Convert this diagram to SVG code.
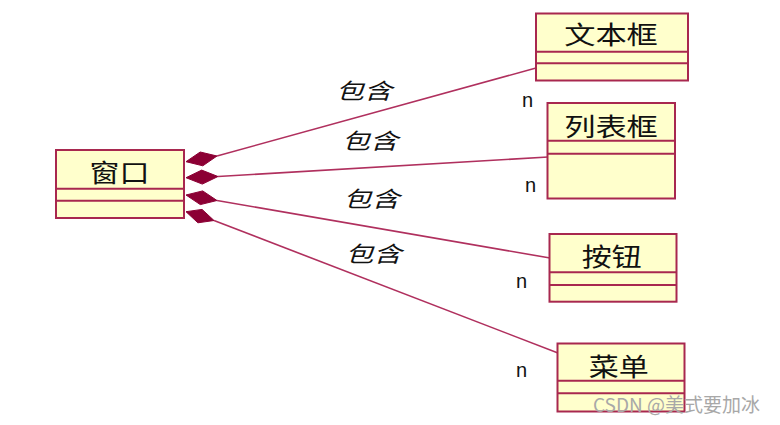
<svg xmlns="http://www.w3.org/2000/svg" width="780" height="425" viewBox="0 0 780 425">
<style>
.box{fill:#FFFFCC;stroke:#A8284F;stroke-width:2}
.div{stroke:#A8284F;stroke-width:2;fill:none}
.name{font-family:"Noto Sans CJK SC","Noto Sans",sans-serif;font-size:25px;fill:#111;text-anchor:middle}
.lbl{font-family:"Noto Sans CJK SC","Noto Sans",sans-serif;font-size:22px;font-style:italic;fill:#111;text-anchor:middle}
.n{font-family:"Liberation Sans",Arial,sans-serif;font-size:20px;fill:#111}
.line{stroke:#B0305E;stroke-width:1.6;fill:none}
.dia{fill:#8C0034;stroke:#8C0034;stroke-width:1}
.wm{font-family:"Noto Sans CJK SC","Liberation Sans",sans-serif;font-size:19px;fill:#A8A8A8}
</style>
<rect width="780" height="425" fill="#fff"/>
<g id="connectors">
<line class="line" x1="217" y1="156" x2="536" y2="68"/>
<line class="line" x1="218" y1="176.5" x2="548" y2="157"/>
<line class="line" x1="217" y1="200.5" x2="550" y2="258"/>
<line class="line" x1="214" y1="220.5" x2="558" y2="353"/>
<polygon class="dia" points="186,161.7 200.2,152 217,156 202.8,165.8"/>
<polygon class="dia" points="186,177.7 201.7,170.1 218,176.5 202.3,184.1"/>
<polygon class="dia" points="186,195 202.7,190.9 217,200.5 200.3,204.6"/>
<polygon class="dia" points="186,211.7 202.1,209.4 214,220.5 197.9,222.8"/>
<text class="lbl" transform="translate(364,98.5) scale(1.28,1)">包含</text>
<text class="lbl" transform="translate(370,148.5) scale(1.28,1)">包含</text>
<text class="lbl" transform="translate(371.5,206.5) scale(1.28,1)">包含</text>
<text class="lbl" transform="translate(373.5,261.5) scale(1.28,1)">包含</text>
<text class="n" x="522" y="107">n</text>
<text class="n" x="525" y="192">n</text>
<text class="n" x="516" y="288">n</text>
<text class="n" x="516" y="377">n</text>
</g>
<g id="window">
<rect class="box" x="56" y="150" width="128" height="68"/>
<line class="div" x1="56" y1="188.7" x2="184" y2="188.7"/>
<line class="div" x1="56" y1="200.7" x2="184" y2="200.7"/>
<text class="name" transform="translate(119.5,182) scale(1.2,1)">窗口</text>
</g>
<g id="textbox">
<rect class="box" x="536" y="13.5" width="152" height="67"/>
<line class="div" x1="536" y1="51.7" x2="688" y2="51.7"/>
<line class="div" x1="536" y1="63.3" x2="688" y2="63.3"/>
<text class="name" transform="translate(611,44) scale(1.25,1)">文本框</text>
</g>
<g id="listbox">
<rect class="box" x="547.5" y="103" width="127.5" height="95.5"/>
<line class="div" x1="547.5" y1="140.7" x2="675" y2="140.7"/>
<line class="div" x1="547.5" y1="153.7" x2="675" y2="153.7"/>
<text class="name" transform="translate(611,135.5) scale(1.25,1)">列表框</text>
</g>
<g id="button">
<rect class="box" x="549.5" y="234" width="127" height="67.7"/>
<line class="div" x1="549.5" y1="272.3" x2="676.5" y2="272.3"/>
<line class="div" x1="549.5" y1="285" x2="676.5" y2="285"/>
<text class="name" transform="translate(611.7,265.5) scale(1.2,1)">按钮</text>
</g>
<g id="menu">
<rect class="box" x="557.5" y="343.5" width="127" height="68"/>
<line class="div" x1="557.5" y1="380.7" x2="684.5" y2="380.7"/>
<line class="div" x1="557.5" y1="393.3" x2="684.5" y2="393.3"/>
<text class="name" transform="translate(618.7,375.5) scale(1.2,1)">菜单</text>
</g>
<text class="wm" x="593" y="412">CSDN @美式要加冰</text>
</svg>
